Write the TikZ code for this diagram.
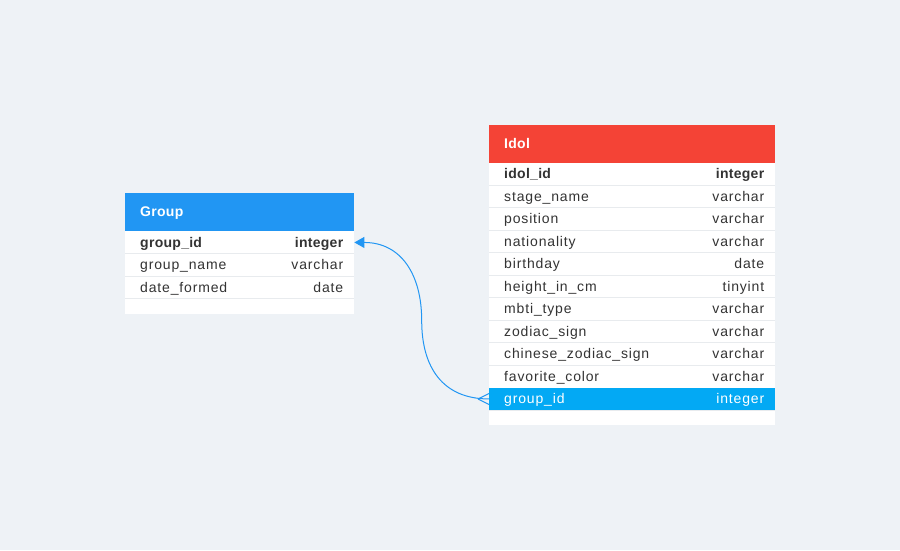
\documentclass[tikz,border=0pt]{standalone}
\usepackage{fontspec}
\setmainfont{Liberation Sans}[LetterSpace=6, BoldFeatures={LetterSpace=2}]
\usetikzlibrary{positioning, calc}
\usetikzlibrary{arrows, arrows.meta}
\definecolor{bgcol}{HTML}{EEF2F6}
\definecolor{grphead}{HTML}{2196F3}
\definecolor{idolhead}{HTML}{F44336}
\definecolor{hilite}{HTML}{03A9F4}
\definecolor{sepcol}{HTML}{E8EBEE}
\definecolor{txtcol}{HTML}{333333}
\tikzset{tbl head/.style={fill=#1, text=white, anchor=north west, inner sep=0pt,
           minimum height=37.5pt, font=\bfseries\fontsize{14}{16}\selectfont}}
\tikzset{fld row/.style={fill=white, anchor=north west, inner sep=0pt, minimum height=22.5pt}}
\tikzset{fld txt/.style={inner sep=0pt, text height=10pt, text depth=0.5pt, text=txtcol,
           font=\fontsize{14}{16}\selectfont}}
\tikzset{key txt/.style={fld txt, font=\bfseries\fontsize{14}{16}\selectfont}}
\tikzset{sep/.style={sepcol, line width=1pt}}
\tikzset{rel/.style={grphead, line width=1pt}}

\begin{document}
\begin{tikzpicture}[x=1pt, y=-1pt]
    \fill[bgcol] (0,0) rectangle (900,550);

    % Group table
    \node[tbl head=grphead, minimum width=229pt] (grp) at (125,193) {};
    \node[key txt, text=white, anchor=west] (grp-title) at ([xshift=15pt]grp.west) {Group};
    \node[fld row, minimum width=229pt] (grp-1) at (125,231) {};
    \node[key txt, anchor=west] (grp-1-name) at ([xshift=15pt]grp-1.west) {group\_id};
    \node[key txt, anchor=east] (grp-1-type) at ([xshift=-11pt]grp-1.east) {integer};
    \foreach \fname/\ftype [count=\i from 2] in {group\_name/varchar, date\_formed/date} {
      \node[fld row, minimum width=229pt] (grp-\i) at (125,{231+22.5*(\i-1)}) {};
      \node[fld txt, anchor=west] (grp-\i-name) at ([xshift=15pt]grp-\i.west) {\fname};
      \node[fld txt, anchor=east] (grp-\i-type) at ([xshift=-11pt]grp-\i.east) {\ftype};
    }
    \node[fld row, minimum width=229pt, minimum height=15pt] (grp-foot) at (125,298.5) {};
    \foreach \i in {1,2,3}
      \draw[sep] (grp-\i.south west) -- (grp-\i.south east);

    % Idol table
    \node[tbl head=idolhead, minimum width=286pt] (idol) at (489,125) {};
    \node[key txt, text=white, anchor=west] (idol-title) at ([xshift=15pt]idol.west) {Idol};
    \node[fld row, minimum width=286pt] (idol-1) at (489,162.5) {};
    \node[key txt, anchor=west] (idol-1-name) at ([xshift=15pt]idol-1.west) {idol\_id};
    \node[key txt, anchor=east] (idol-1-type) at ([xshift=-11pt]idol-1.east) {integer};
    \foreach \fname/\ftype [count=\i from 2] in {stage\_name/varchar, position/varchar,
        nationality/varchar, birthday/date, height\_in\_cm/tinyint, mbti\_type/varchar,
        zodiac\_sign/varchar, chinese\_zodiac\_sign/varchar, favorite\_color/varchar} {
      \node[fld row, minimum width=286pt] (idol-\i) at (489,{162.5+22.5*(\i-1)}) {};
      \node[fld txt, anchor=west] (idol-\i-name) at ([xshift=15pt]idol-\i.west) {\fname};
      \node[fld txt, anchor=east] (idol-\i-type) at ([xshift=-11pt]idol-\i.east) {\ftype};
    }
    % highlighted foreign key
    \node[fld row, fill=hilite, minimum width=286pt] (idol-gid) at (489,387.5) {};
    \node[fld txt, text=white, anchor=west] (idol-gid-name) at ([xshift=15pt]idol-gid.west) {group\_id};
    \node[fld txt, text=white, anchor=east] (idol-gid-type) at ([xshift=-11pt]idol-gid.east) {integer};
    \node[fld row, minimum width=286pt, minimum height=15pt] (idol-foot) at (489,410) {};
    \foreach \i in {1,...,9}
      \draw[sep] (idol-\i.south west) -- (idol-\i.south east);
    \draw[sep] (idol-foot.north west) -- (idol-foot.north east);

    % relation group_id -> group_id
    \coordinate (bend) at ($(grp-1.east)!0.5!(idol-gid.west)$);
    \draw[rel, {Triangle[length=10pt,width=11pt]}-] (grp-1.east)
      to[out=0, in=90, looseness=1.15] (bend)
      to[out=-90, in=180, looseness=1.15] (idol-gid.west);
    \coordinate (crow) at ([xshift=-11pt]idol-gid.west);
    \draw[rel] (crow) -- ([yshift=5.5pt]idol-gid.west);
    \draw[rel] (crow) -- ([yshift=-5.5pt]idol-gid.west);
\end{tikzpicture}
\end{document}
